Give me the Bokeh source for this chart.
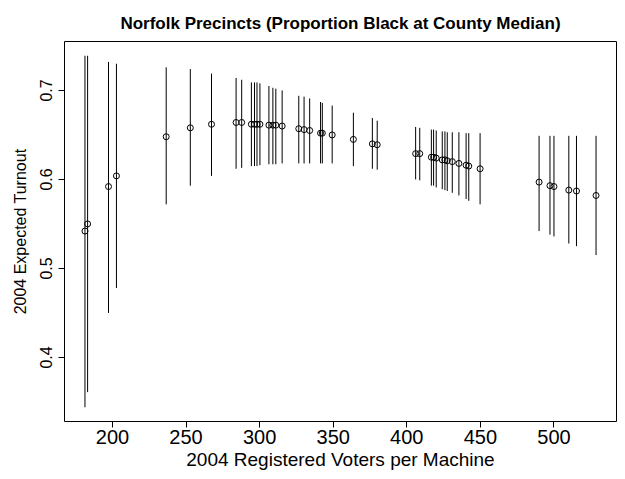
from bokeh.plotting import figure
from bokeh.models import Range1d, FixedTicker, Title, ColumnDataSource
from bokeh.embed import file_html
from bokeh.resources import INLINE

# Registered voters per machine for each precinct
voters = [181.3, 183.1, 197.3, 202.7, 236.5, 252.9, 267.3, 284.0, 287.8, 294.4,
          296.5, 298.2, 300.2, 306.3, 309.0, 311.0, 315.3, 326.6, 330.2, 334.0,
          341.4, 342.6, 349.3, 363.7, 376.6, 379.9, 406.0, 408.8, 416.7, 418.2,
          420.0, 424.1, 425.9, 427.5, 430.9, 435.4, 440.3, 442.1, 449.8, 489.9,
          497.3, 500.0, 510.1, 515.3, 528.6]

# Expected turnout (point estimate)
turnout = [0.542, 0.550, 0.592, 0.604, 0.648, 0.658, 0.662, 0.664, 0.664, 0.662,
           0.662, 0.662, 0.662, 0.661, 0.661, 0.661, 0.660, 0.657, 0.656, 0.655,
           0.652, 0.652, 0.650, 0.645, 0.640, 0.639, 0.629, 0.629, 0.625, 0.625,
           0.624, 0.622, 0.622, 0.621, 0.620, 0.618, 0.616, 0.615, 0.612, 0.597,
           0.593, 0.592, 0.588, 0.587, 0.582]

# Interval bounds
lower = [0.344, 0.361, 0.450, 0.478, 0.572, 0.593, 0.604, 0.612, 0.613, 0.615,
         0.615, 0.615, 0.616, 0.617, 0.617, 0.617, 0.618, 0.618, 0.618, 0.618,
         0.618, 0.618, 0.618, 0.615, 0.612, 0.611, 0.600, 0.599, 0.593, 0.593,
         0.591, 0.589, 0.588, 0.587, 0.585, 0.582, 0.578, 0.576, 0.572, 0.542,
         0.538, 0.536, 0.528, 0.525, 0.515]
upper = [0.739, 0.739, 0.732, 0.730, 0.726, 0.724, 0.719, 0.714, 0.712, 0.709,
         0.709, 0.709, 0.708, 0.705, 0.703, 0.702, 0.700, 0.694, 0.693, 0.691,
         0.687, 0.686, 0.683, 0.675, 0.669, 0.666, 0.659, 0.658, 0.656, 0.656,
         0.655, 0.654, 0.654, 0.653, 0.653, 0.653, 0.652, 0.652, 0.652, 0.649,
         0.649, 0.649, 0.649, 0.649, 0.649]

x_ticks = [200, 250, 300, 350, 400, 450, 500]
y_ticks = [0.4, 0.5, 0.6, 0.7]

FONT = "Liberation Sans"

src = ColumnDataSource(dict(x=voters, y=turnout, lo=lower, hi=upper))

p = figure(width=625, height=479, output_backend="svg", toolbar_location=None,
           x_range=Range1d(167.4, 542.5), y_range=Range1d(0.328, 0.755),
           min_border_left=64, min_border_right=9, min_border_top=41,
           min_border_bottom=58, background_fill_color="white",
           border_fill_color="white")

p.title = Title(text="Norfolk Precincts (Proportion Black at County Median)",
                align="center", vertical_align="top", text_font=FONT,
                text_font_size="17px", text_font_style="bold",
                text_color="black", standoff=14)

# interval bars, then open circles at the estimates
p.segment(x0="x", y0="lo", x1="x", y1="hi", source=src,
          line_color="black", line_width=1)
p.scatter(x="x", y="y", source=src, marker="circle", size=6,
          fill_color=None, line_color="black", line_width=1)

p.xgrid.visible = False
p.ygrid.visible = False
p.outline_line_color = "black"
p.outline_line_width = 1

for ax in (p.xaxis[0], p.yaxis[0]):
    ax.axis_line_color = None
    ax.major_tick_line_color = "black"
    ax.major_tick_in = 0
    ax.major_tick_out = 6
    ax.minor_tick_line_color = None
    ax.major_label_text_font = FONT
    ax.major_label_text_color = "black"
    ax.axis_label_text_font = FONT
    ax.axis_label_text_font_style = "normal"
    ax.axis_label_text_color = "black"

p.xaxis.ticker = FixedTicker(ticks=x_ticks)
p.xaxis.axis_label = "2004 Registered Voters per Machine"
p.xaxis.major_label_text_font_size = "20px"
p.xaxis.axis_label_text_font_size = "19px"
p.xaxis.major_label_standoff = 2
p.xaxis.axis_label_standoff = 2

p.yaxis.ticker = FixedTicker(ticks=y_ticks)
p.yaxis.axis_label = "2004 Expected Turnout"
p.yaxis.major_label_orientation = "vertical"
p.yaxis.major_label_text_font_size = "16px"
p.yaxis.axis_label_text_font_size = "16px"
p.yaxis.major_label_standoff = 6
p.yaxis.axis_label_standoff = 9

open("out.html", "w").write(file_html(p, INLINE))
